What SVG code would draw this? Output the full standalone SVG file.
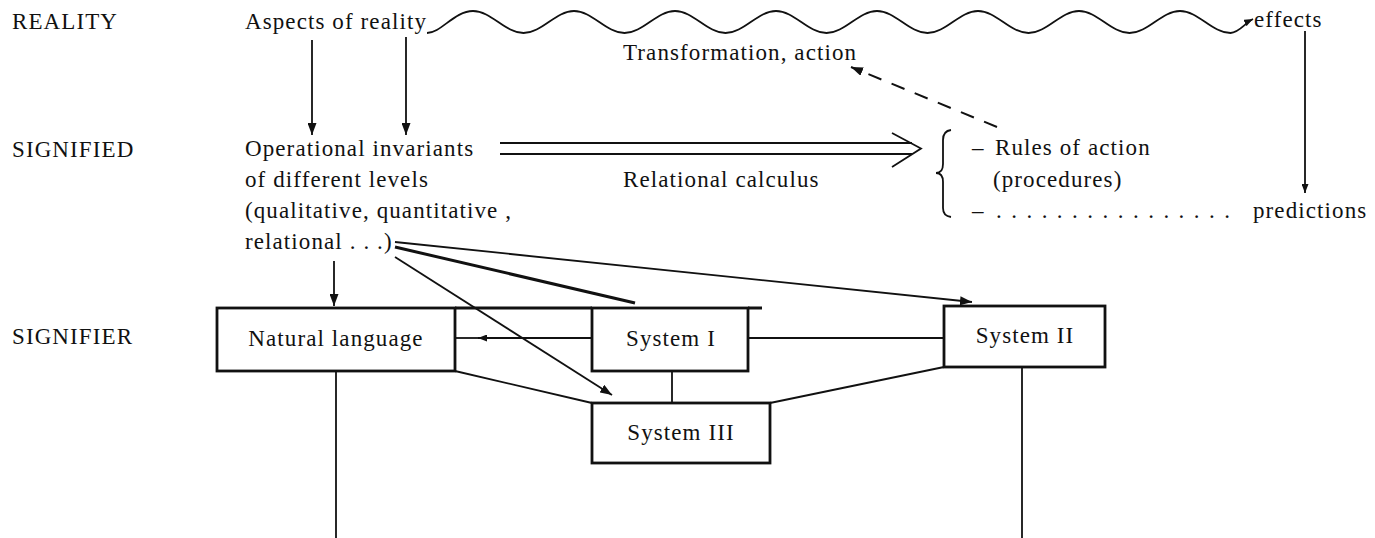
<svg xmlns="http://www.w3.org/2000/svg" width="1375" height="538" viewBox="0 0 1375 538">
<defs>
<style>
.t{font-family:"Liberation Serif","Times New Roman",serif;font-size:23px;letter-spacing:1.1px;fill:#111}
.m{text-anchor:middle}
.ln{stroke:#111;stroke-width:1.8;fill:none}
.thk{stroke:#111;stroke-width:3;fill:none}
.box{fill:#fff;stroke:#111;stroke-width:2.8}
.dash{stroke:#111;stroke-width:2;fill:none;stroke-dasharray:14 11}
</style>
<marker id="ah" markerUnits="userSpaceOnUse" markerWidth="14" markerHeight="9" refX="12" refY="4.5" orient="auto"><path d="M0,0 L12,4.5 L0,9 z" fill="#111"/></marker>
<marker id="ahs" markerUnits="userSpaceOnUse" markerWidth="10" markerHeight="7" refX="9" refY="3.5" orient="auto"><path d="M0,0 L9,3.5 L0,7 z" fill="#111"/></marker>
</defs>
<rect width="1375" height="538" fill="#fff"/>

<g id="levels">
<text class="t" x="12" y="29">REALITY</text>
<text class="t" x="12" y="157">SIGNIFIED</text>
<text class="t" x="12" y="344">SIGNIFIER</text>
</g>

<g id="node-aspects"><text class="t" x="245" y="29">Aspects of reality</text></g>
<g id="node-effects"><text class="t" x="1254" y="27">effects</text></g>
<g id="node-transformation"><text class="t" x="623" y="60">Transformation, action</text></g>
<g id="node-invariants">
<text class="t" x="245" y="156">Operational invariants</text>
<text class="t" x="245" y="187">of different levels</text>
<text class="t" x="245" y="218">(qualitative, quantitative ,</text>
<text class="t" x="245" y="249">relational . . .)</text>
</g>
<g id="node-relational-calculus"><text class="t" x="623" y="187">Relational calculus</text></g>
<g id="node-rules">
<path class="ln" d="M951,130 Q943,131 943,140 L943,164 Q943,173 936,173 Q943,173 943,182 L943,208 Q943,216 951,217" stroke-width="1.8"/>
<text class="t"><tspan x="972" y="155">–</tspan><tspan x="995" y="155">Rules of action</tspan></text>
<text class="t" x="993" y="187">(procedures)</text>
</g>
<g id="node-predictions">
<text class="t" x="972" y="218">–</text>
<text class="t" x="996" y="218" style="letter-spacing:0" textLength="234" lengthAdjust="spacing">. . . . . . . . . . . . . . . .</text>
<text class="t" x="1253" y="218">predictions</text>
</g>

<g id="node-natural-language">
<rect class="box" x="217" y="308" width="238" height="63"/>
<text class="t m" x="336" y="346">Natural language</text>
</g>
<g id="node-system-1">
<rect class="box" x="592" y="308" width="156" height="63"/>
<text class="t m" x="671" y="346">System I</text>
</g>
<g id="node-system-2">
<rect class="box" x="944" y="306" width="161" height="61"/>
<text class="t m" x="1025" y="343">System II</text>
</g>
<g id="node-system-3">
<rect class="box" x="592" y="403" width="178" height="60"/>
<text class="t m" x="681" y="440">System III</text>
</g>

<g id="connectors">
<path class="ln" d="M427,33 C441,33 454.5,11 473,11 S505,33 523.5,33 S555.5,11 574,11 S606,33 624.5,33 S656.5,11 675,11 S707,33 725.5,33 S757.5,11 776,11 S808,33 826.5,33 S858.5,11 877,11 S909,33 927.5,33 S959.5,11 978,11 S1010,33 1028.5,33 S1060.5,11 1079,11 S1111,33 1129.5,33 S1161.5,11 1180,11 S1212,33 1230.5,33 C1239,33 1245,23 1253,19" marker-end="url(#ahs)"/>
<line class="ln" x1="312" y1="40" x2="312" y2="135" marker-end="url(#ah)"/>
<line class="ln" x1="406" y1="37" x2="406" y2="135" marker-end="url(#ah)"/>
<line class="dash" x1="997" y1="127" x2="851" y2="67" marker-end="url(#ah)"/>
<line class="ln" x1="500" y1="143" x2="912" y2="143"/>
<line class="ln" x1="500" y1="154" x2="912" y2="154"/>
<polyline class="ln" points="892,133 921,148.5 892,167"/>
<line class="ln" x1="1305" y1="31" x2="1305" y2="193" marker-end="url(#ahs)"/>
<line class="ln" x1="395" y1="242" x2="972" y2="302" stroke-width="2.4" marker-end="url(#ah)"/>
<line class="thk" x1="395" y1="247" x2="635" y2="303"/>
<line class="ln" x1="395" y1="257" x2="612" y2="395" stroke-width="1.6" marker-end="url(#ah)"/>
<line class="ln" x1="334" y1="261" x2="334" y2="306" marker-end="url(#ah)"/>
<line class="thk" x1="455" y1="308" x2="592" y2="308" stroke-width="2.8"/>
<line class="thk" x1="748" y1="308" x2="762" y2="308" stroke-width="2.8"/>
<line class="ln" x1="592" y1="338" x2="478" y2="338" marker-end="url(#ahs)"/>
<line class="ln" x1="478" y1="338" x2="455" y2="338"/>
<line class="ln" x1="748" y1="338" x2="944" y2="338"/>
<line class="ln" x1="672" y1="371" x2="672" y2="403"/>
<line class="ln" x1="455" y1="371" x2="592" y2="403"/>
<line class="ln" x1="770" y1="403" x2="944" y2="367"/>
<line class="ln" x1="336" y1="371" x2="336" y2="538"/>
<line class="ln" x1="1022" y1="367" x2="1022" y2="538"/>
</g>
</svg>
